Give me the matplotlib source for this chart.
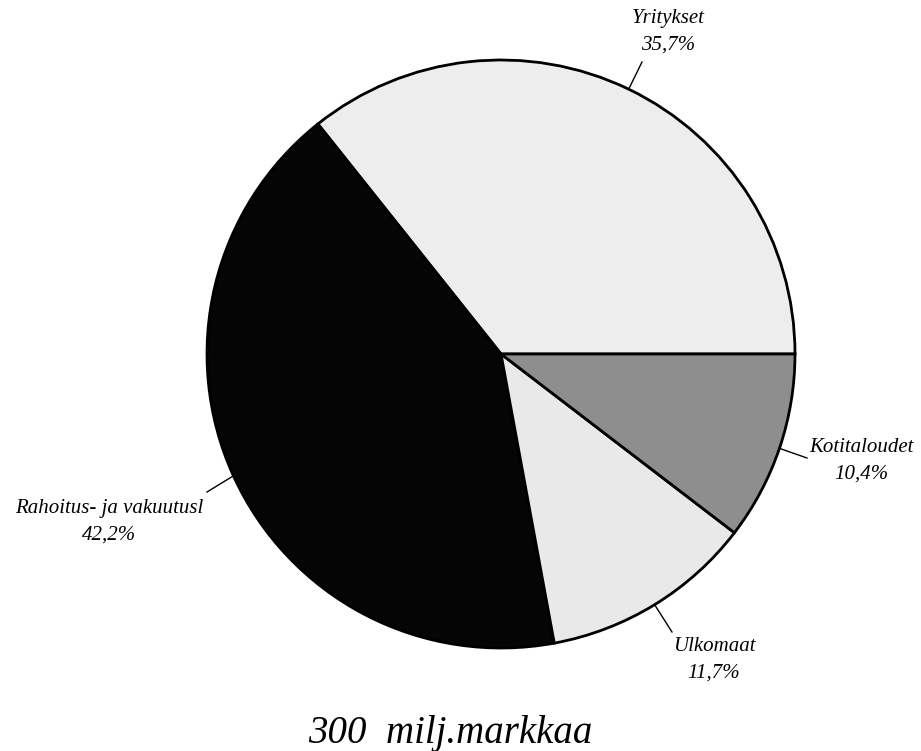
import numpy as np
import matplotlib
matplotlib.use("Agg")
import matplotlib.pyplot as plt

labels = ["Yritykset", "Rahoitus- ja vakuutusl", "Ulkomaat", "Kotitaloudet"]
values = [35.7, 42.2, 11.7, 10.4]
pct_labels = ["35,7%", "42,2%", "11,7%", "10,4%"]
colors = ["#ededed", "#050505", "#e9e9e9", "#8e8e8e"]
title = "300  milj.markkaa"

W, H = 921, 751
fig = plt.figure(figsize=(W / 100, H / 100), dpi=100)
cx, cy, r = 501, 354, 294
ax = fig.add_axes([(cx - r) / W, (H - cy - r) / H, 2 * r / W, 2 * r / H])

wedges, _ = ax.pie(values, colors=colors, startangle=0, counterclock=True,
                   radius=1.0,
                   wedgeprops=dict(edgecolor="black", linewidth=2.0))
ax.set_xlim(-1, 1)
ax.set_ylim(-1, 1)
ax.set_aspect("equal")
ax.axis("off")

font = dict(family="Liberation Serif", style="italic", size=15)

# label text positions (pixel offsets relative to center), and leader end points
text_pos = [(167, -322), (-392, 168), (213, 306), (360, 107)]
line_end = [(141, -292), (-294, 138), (171, 278), (306, 104)]

for w, lab, pct, tp, le in zip(wedges, labels, pct_labels, text_pos, line_end):
    ang = np.deg2rad((w.theta1 + w.theta2) / 2)
    x0, y0 = np.cos(ang), np.sin(ang)
    ex, ey = le[0] / r, -le[1] / r
    ax.plot([x0, ex], [y0, ey], color="black", lw=1.0, clip_on=False)
    ax.text(tp[0] / r, -tp[1] / r, lab + "\n" + pct, ha="center", va="center",
            linespacing=1.55, **font)

fig.text(0.5 * (308 + 592) / W, 1 - 733 / H, title, ha="center", va="center",
         family="Liberation Serif", style="italic", size=28)

fig.savefig("out.png", dpi=100, facecolor="white")
